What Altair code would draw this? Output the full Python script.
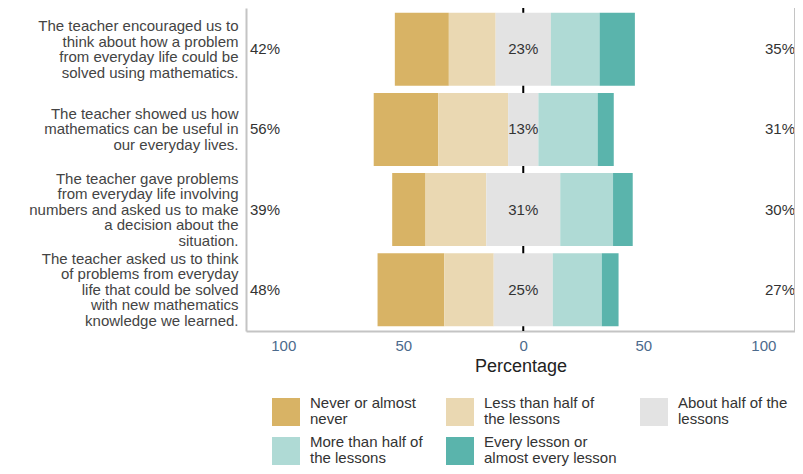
import altair as alt
import pandas as pd

# ---- data ----
statements = [
    "The teacher encouraged us to|think about how a problem|from everyday life could be|solved using mathematics.",
    "The teacher showed us how|mathematics can be useful in|our everyday lives.",
    "The teacher gave problems|from everyday life involving|numbers and asked us to make|a decision about the|situation.",
    "The teacher asked us to think|of problems from everyday|life that could be solved|with new mathematics|knowledge we learned.",
]
levels = [
    "Never or almost|never",
    "Less than half of|the lessons",
    "About half of the|lessons",
    "More than half of|the lessons",
    "Every lesson or|almost every lesson",
]
never = [22.5, 26.9, 13.9, 27.8]
less_half = [19.5, 29.1, 25.3, 20.6]
about_half = [23.0, 12.6, 30.8, 24.6]
more_half = [20.3, 24.7, 22.0, 20.4]
every = [14.7, 6.7, 8.2, 7.0]
colors = ["#D8B365", "#EAD8B2", "#E3E3E3", "#AFDAD5", "#5AB4AC"]
tick_values = [-100, -75, -50, -25, 0, 25, 50, 75, 100]

# ---- build tables ----
series = [never, less_half, about_half, more_half, every]
rows, labels = [], []
for i, s in enumerate(statements):
    start = -(never[i] + less_half[i] + about_half[i] / 2)
    for lvl, vals in zip(levels, series):
        rows.append({"statement": s, "level": lvl, "x0": start, "x1": start + vals[i]})
        start += vals[i]
    labels.append({
        "statement": s,
        "left": f"{round(never[i] + less_half[i])}%",
        "mid": f"{round(about_half[i])}%",
        "right": f"{round(more_half[i] + every[i])}%",
    })
bars_df = pd.DataFrame(rows)
lab_df = pd.DataFrame(labels)
one = pd.DataFrame({"z": [0]})

W, H = 549, 323
FONT = "Liberation Sans"
LH = 15.5

xscale = alt.Scale(domain=[-115.5, 113.2], nice=False, zero=False)
yscale = alt.Scale(domain=statements, paddingInner=0.09, paddingOuter=0.06)

nlines = "length(split(datum.value, '|'))"
y_enc = alt.Y(
    "statement:N", scale=yscale, sort=statements,
    axis=alt.Axis(
        title=None, labelExpr="split(datum.label, '|')", labelLimit=260,
        labelFontSize=15, labelLineHeight=LH, labelColor="#444444",
        labelPadding=8, ticks=False, domainColor="#C4C4C4", domainWidth=2,
        labelOffset={
            "condition": [
                {"test": f"{nlines} == 3", "value": -LH},
                {"test": f"{nlines} == 4", "value": -1.5 * LH},
            ],
            "value": -2 * LH,
        },
    ),
)

zero_rule = alt.Chart(one).mark_rule(color="black", strokeWidth=2).encode(
    x=alt.X("z:Q", scale=xscale)
)

bars = alt.Chart(bars_df).mark_bar().encode(
    x=alt.X(
        "x0:Q", scale=xscale,
        axis=alt.Axis(
            values=tick_values,
            labelExpr="datum.value % 50 == 0 ? format(abs(datum.value), 'd') : ''",
            title="Percentage", titleFontSize=18, titleFontWeight="normal",
            titleColor="#222222", titlePadding=4, labelColor="#4C6A8C",
            labelFontSize=15, labelPadding=4, tickColor="white", tickSize=3,
            tickWidth=1, domainColor="#C4C4C4", domainWidth=2, grid=False,
            labelOverlap=False, labelFlush=False,
        ),
    ),
    x2="x1:Q",
    y=y_enc,
    color=alt.Color(
        "level:N",
        scale=alt.Scale(domain=levels, range=colors),
        sort=levels,
        legend=alt.Legend(
            title=None, orient="none", legendX=26, legendY=390, columns=3,
            direction="horizontal", symbolType="square", symbolSize=784,
            symbolStrokeWidth=0, symbolOpacity=1,
            labelExpr="split(datum.label, '|')", labelFontSize=15,
            labelBaseline="line-bottom",
            labelColor="#333333", labelOffset=10, columnPadding=23,
            rowPadding=8, labelLimit=300, padding=0,
        ),
    ),
)

left_txt = alt.Chart(lab_df).mark_text(
    align="left", baseline="middle", fontSize=15, color="#333333", font=FONT
).encode(y=alt.Y("statement:N", scale=yscale, sort=statements), x=alt.value(4), text="left:N")

mid_txt = alt.Chart(lab_df).mark_text(
    align="center", baseline="middle", fontSize=15, color="#333333", font=FONT
).encode(y=alt.Y("statement:N", scale=yscale, sort=statements), x=alt.datum(0, scale=xscale), text="mid:N")

right_txt = alt.Chart(lab_df).mark_text(
    align="right", baseline="middle", fontSize=15, color="#333333", font=FONT
).encode(y=alt.Y("statement:N", scale=yscale, sort=statements), x=alt.value(W), text="right:N")

right_border = alt.Chart(one).mark_rule(color="#C4C4C4", strokeWidth=2).encode(
    x=alt.value(W)
)

chart = alt.layer(zero_rule, bars, left_txt, mid_txt, right_txt, right_border).properties(
    width=W, height=H,
    autosize=alt.AutoSizeParams(type="none"),
    padding={"left": 238, "top": 0, "right": 0, "bottom": 135},
).configure(
    font=FONT,
    style={"guide-label": {"lineHeight": 16}},
).configure_view(
    stroke=None
)

chart.save("out.html", embed_options={"renderer": "svg", "actions": False})
